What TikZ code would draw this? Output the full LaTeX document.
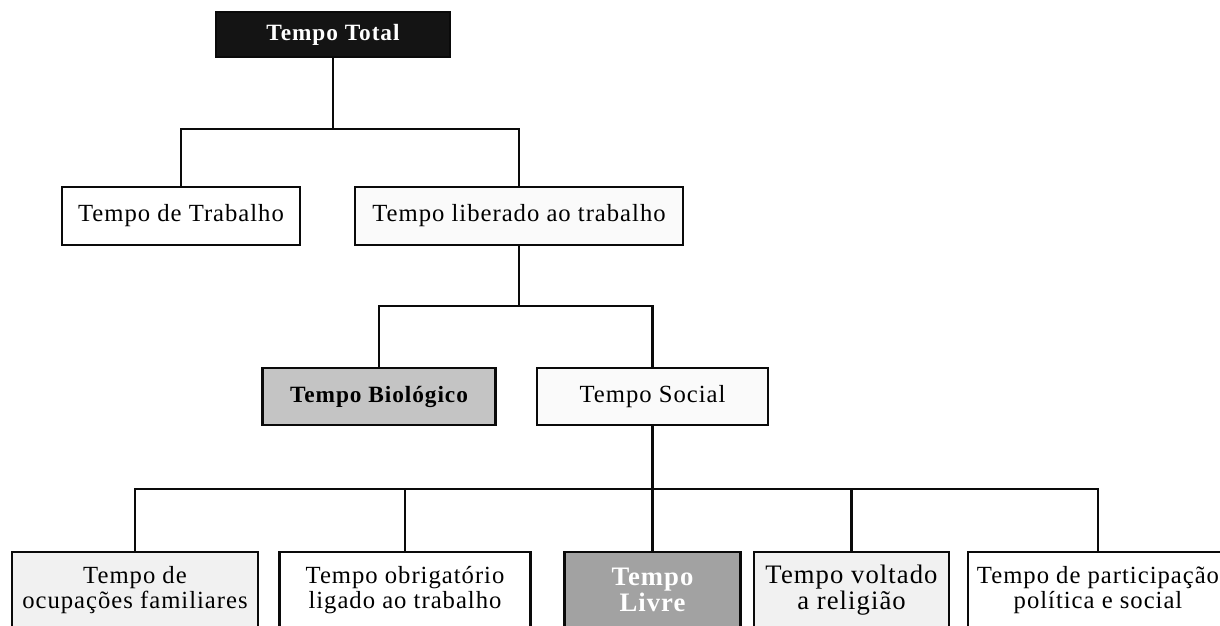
\documentclass[tikz,border=0pt]{standalone}
\usepackage{fontspec}
\setmainfont{Liberation Serif}[LetterSpace=4]
\usetikzlibrary{calc}
\definecolor{ink}{HTML}{0A0A0A}
\definecolor{darkfill}{HTML}{141414}
\definecolor{biofill}{HTML}{C4C4C4}
\definecolor{livrefill}{HTML}{A2A2A2}
\definecolor{speckle}{HTML}{F1F1F1}
\definecolor{faint}{HTML}{FAFAFA}
\tikzset{
  box/.style 2 args={draw=ink, line width=2.1pt, rectangle, inner sep=0pt,
    minimum width=#1*0.75pt, minimum height=#2*0.75pt, align=center,
    font=\fontsize{18.5}{19}\selectfont},
  strong/.style={font=\fontsize{17.5}{19}\selectfont\bfseries},
  conn/.style={draw=ink, line width=1.6pt}
}
\begin{document}
\begin{tikzpicture}[x=0.75pt,y=-0.75pt]
  \useasboundingbox (0,0) rectangle (1220,625);
  \clip (0,0) rectangle (1220,625);
  \fill[white] (0,0) rectangle (1220,625);

  % level 0
  \node[box={234}{45}, fill=darkfill, text=white, strong] (total) at (333,34.5) {Tempo Total};

  % level 1
  \node[box={238}{58}, fill=white] (trab) at (181,216) {Tempo de Trabalho};
  \node[box={328}{58}, fill=faint] (lib) at (519,216) {Tempo liberado ao trabalho};

  % level 2
  \node[box={233}{57}, fill=biofill, strong] (bio) at (379,396.5) {Tempo Biológico};
  \node[box={231}{57}, fill=faint] (soc) at (652.5,396.5) {Tempo Social};

  % level 3 (boxes run past the lower edge)
  \node[box={246}{76}, fill=speckle] (p1) at (135,590) {Tempo de\\ocupações familiares};
  \node[box={251}{76}, fill=white] (p2) at (405,590) {Tempo obrigatório\\ligado ao trabalho};
  \node[box={176}{76}, fill=livrefill, text=white, font=\fontsize{20}{20}\selectfont\bfseries] (p3) at (652.5,590) {Tempo\\Livre};
  \node[box={195}{76}, fill=speckle, font=\fontsize{20}{19.5}\selectfont] (p4) at (851.5,590) {Tempo voltado\\a religião};
  \node[box={260}{76}, fill=white] (p5) at (1098,590) {Tempo de participação\\política e social};

  % connectors
  \coordinate (b1) at ($(total.south)+(0,71)$);
  \draw[conn] (total.south) -- (b1);
  \draw[conn] (trab.north) |- (b1) -| (lib.north);

  \coordinate (b2) at ($(lib.south)+(0,60)$);
  \draw[conn] (lib.south) -- (b2);
  \draw[conn] (bio.north) |- (b2) -| (soc.north);

  \coordinate (b3) at ($(soc.south)+(0,63)$);
  \draw[conn] (soc.south) -- (p3.north);
  \draw[conn] (p1.north) |- (b3) -| (p5.north);
  \draw[conn] (p2.north) -- (p2.north |- b3);
  \draw[conn] (p4.north) -- (p4.north |- b3);
\end{tikzpicture}
\end{document}
